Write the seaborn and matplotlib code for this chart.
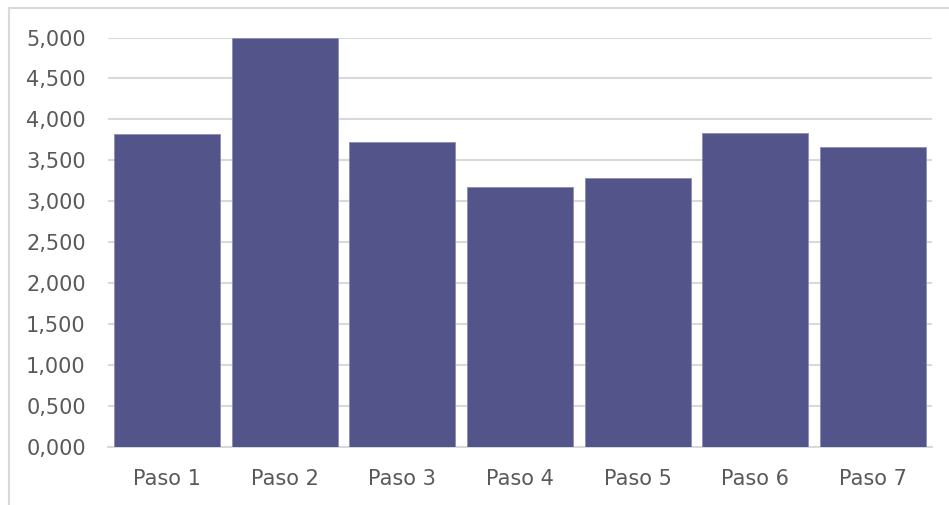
import matplotlib
matplotlib.use("Agg")
import matplotlib.pyplot as plt
import seaborn as sns
import pandas as pd
from matplotlib.patches import Rectangle
from matplotlib.ticker import FuncFormatter

pasos = ["Paso 1", "Paso 2", "Paso 3", "Paso 4", "Paso 5", "Paso 6", "Paso 7"]
valores = [3.82, 5.00, 3.73, 3.18, 3.29, 3.84, 3.665]
yticks = [0, 0.5, 1, 1.5, 2, 2.5, 3, 3.5, 4, 4.5, 5]

df = pd.DataFrame({"paso": pasos, "valor": valores})

sns.set_theme(style="white")
plt.rcParams["font.family"] = ["DejaVu Sans"]

fig = plt.figure(figsize=(9.49, 5.05), dpi=100)
ax = fig.add_axes([108 / 949, 1 - 447 / 505, (932 - 108) / 949, (447 - 37.5) / 505])

# light frame around the chart area (right and bottom edges fall outside the image)
fig.patches.append(Rectangle((8.5 / 949, -0.1), 1.2, 1.1 - 7.5 / 505,
                             transform=fig.transFigure, fill=False,
                             edgecolor="#d9d9d9", linewidth=1.5))

sns.barplot(data=df, x="paso", y="valor", color="#52548a", width=0.9,
            saturation=1, edgecolor="#8c8db5", linewidth=0.6, ax=ax, zorder=3)

ax.set_ylim(0, 5)
ax.set_xlim(-0.5, len(pasos) - 0.5)
ax.set_yticks(yticks)
ax.yaxis.set_major_formatter(FuncFormatter(lambda v, p: f"{v:.3f}".replace(".", ",")))
ax.grid(axis="y", color="#d9d9d9", linewidth=1.5, zorder=0)
ax.set_axisbelow(True)
for s in ["top", "right", "left"]:
    ax.spines[s].set_visible(False)
ax.spines["bottom"].set_color("#d9d9d9")
ax.spines["bottom"].set_linewidth(1.5)
ax.set_xlabel("")
ax.set_ylabel("")
ax.tick_params(axis="y", length=0, pad=16, labelsize=15, labelcolor="#595959")
ax.tick_params(axis="x", length=0, pad=16, labelsize=15, labelcolor="#595959")

fig.savefig("out.png", dpi=100)
